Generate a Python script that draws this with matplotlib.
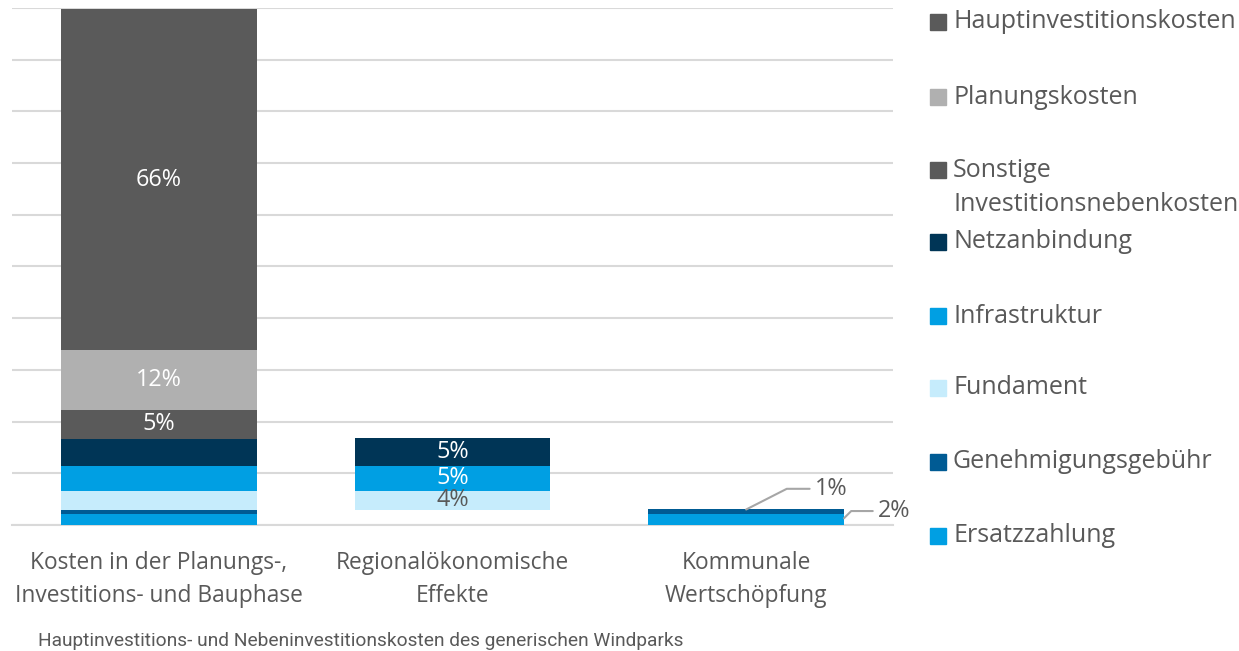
import matplotlib.pyplot as plt
from matplotlib.patches import Rectangle
import numpy as np

dpi = 100
fig = plt.figure(dpi=dpi, figsize=(1239 / dpi, 651 / dpi))
plt.rcParams['font.family'] = ['Open Sans', 'DejaVu Sans']

categories = ['Kosten in der Planungs-,\nInvestitions- und Bauphase',
              'Regionalökonomische\nEffekte',
              'Kommunale\nWertschöpfung']

# from bottom to top of the stack
series = ['Ersatzzahlung', 'Genehmigungsgebühr', 'Fundament', 'Infrastruktur',
          'Netzanbindung', 'Sonstige\nInvestitionsnebenkosten', 'Planungskosten',
          'Hauptinvestitionskosten']
values = {
    'Ersatzzahlung': [2.2, 2.2, 2.2],
    'Genehmigungsgebühr': [0.7, 0.7, 0.8],
    'Fundament': [3.7, 3.7, 0],
    'Infrastruktur': [4.8, 4.8, 0],
    'Netzanbindung': [5.3, 5.5, 0],
    'Sonstige\nInvestitionsnebenkosten': [5.5, 0, 0],
    'Planungskosten': [11.6, 0, 0],
    'Hauptinvestitionskosten': [66, 0, 0],
}
colors = ['#009fe3', '#005b94', '#c6ecfc', '#009fe3',
          '#003556', '#5a5a5a', '#b0b0b0', '#5a5a5a']
# labels shown inside the bars (None = no label)
labels = {
    'Fundament': [None, '4%', None],
    'Infrastruktur': [None, '5%', None],
    'Netzanbindung': [None, '5%', None],
    'Sonstige\nInvestitionsnebenkosten': ['5%', None, None],
    'Planungskosten': ['12%', None, None],
    'Hauptinvestitionskosten': ['66%', None, None],
}
# segments that are present but not filled
hidden = {'Ersatzzahlung': [1], 'Genehmigungsgebühr': [1]}

ax = fig.add_axes([12 / 1239, 1 - 525 / 651, (893 - 12) / 1239, (525 - 8) / 651])
x = np.arange(len(categories))
bottom = np.zeros(len(categories))
tops = {}
for name, col in zip(series, colors):
    v = np.array(values[name], dtype=float)
    bars = ax.bar(x, v, 0.667, bottom=bottom, color=col, zorder=3)
    for i in hidden.get(name, []):
        bars[i].set_visible(False)
    for i, lab in enumerate(labels.get(name, [None] * 3)):
        if lab:
            tc = '#595959' if name == 'Fundament' else 'white'
            ax.text(x[i], bottom[i] + v[i] / 2, lab, ha='center', va='center',
                    color=tc, fontsize=16.8, zorder=4)
    tops[name] = bottom + v
    bottom = bottom + v

# leader-line labels for the small segments of the third bar
ax.annotate('1%', xy=(x[2], tops['Genehmigungsgebühr'][2]),
            xytext=(x[2] + 0.235, tops['Genehmigungsgebühr'][2] + 4.0),
            fontsize=16.8, color='#595959', va='center', ha='left',
            arrowprops=dict(arrowstyle='-', color='#a6a6a6', lw=1.5,
                            connectionstyle='angle,angleA=0,angleB=27,rad=0',
                            shrinkA=2, shrinkB=0))
ax.annotate('2%', xy=(x[2] + 0.333, tops['Ersatzzahlung'][2] / 2 + 0.2),
            xytext=(x[2] + 0.45, tops['Genehmigungsgebühr'][2] - 0.3),
            fontsize=16.8, color='#595959', va='center', ha='left',
            arrowprops=dict(arrowstyle='-', color='#a6a6a6', lw=1.5,
                            connectionstyle='angle,angleA=0,angleB=45,rad=0',
                            shrinkA=2, shrinkB=0))

ax.set_xlim(-0.5, 2.5)
ax.set_ylim(0, 100)
ax.set_yticks(np.arange(0, 101, 10))
ax.yaxis.grid(True, color='#d9d9d9', lw=1.5, zorder=0)
ax.set_yticklabels([])
ax.tick_params(axis='y', length=0)
ax.tick_params(axis='x', length=0, pad=19)
ax.set_xticks(x)
ax.set_xticklabels(categories, fontsize=16.4, color='#595959', linespacing=1.5)
for s in ['top', 'right', 'left']:
    ax.spines[s].set_visible(False)
ax.spines['bottom'].set_color('#d9d9d9')
ax.spines['bottom'].set_linewidth(1.5)

# legend on the right, top to bottom
leg_y = [22, 97, 170, 242, 316, 388, 462, 536]
for name, col, yy in zip(series[::-1], colors[::-1], leg_y):
    fig.patches.append(Rectangle((930 / 1239, 1 - (yy + 8) / 651), 16 / 1239, 16 / 651,
                                 transform=fig.transFigure, color=col))
    ty = yy + 17.5 if '\n' in name else yy
    fig.text(953 / 1239, 1 - ty / 651, name, fontsize=18, color='#595959',
             va='center', linespacing=1.45)

fig.text(38 / 1239, 1 - 641 / 651,
         'Hauptinvestitions- und Nebeninvestitionskosten des generischen Windparks',
         fontsize=13.8, color='#595959', va='center',
         family=['Liberation Sans Narrow', 'Roboto', 'DejaVu Sans'])

fig.savefig('out.png', dpi=dpi)
